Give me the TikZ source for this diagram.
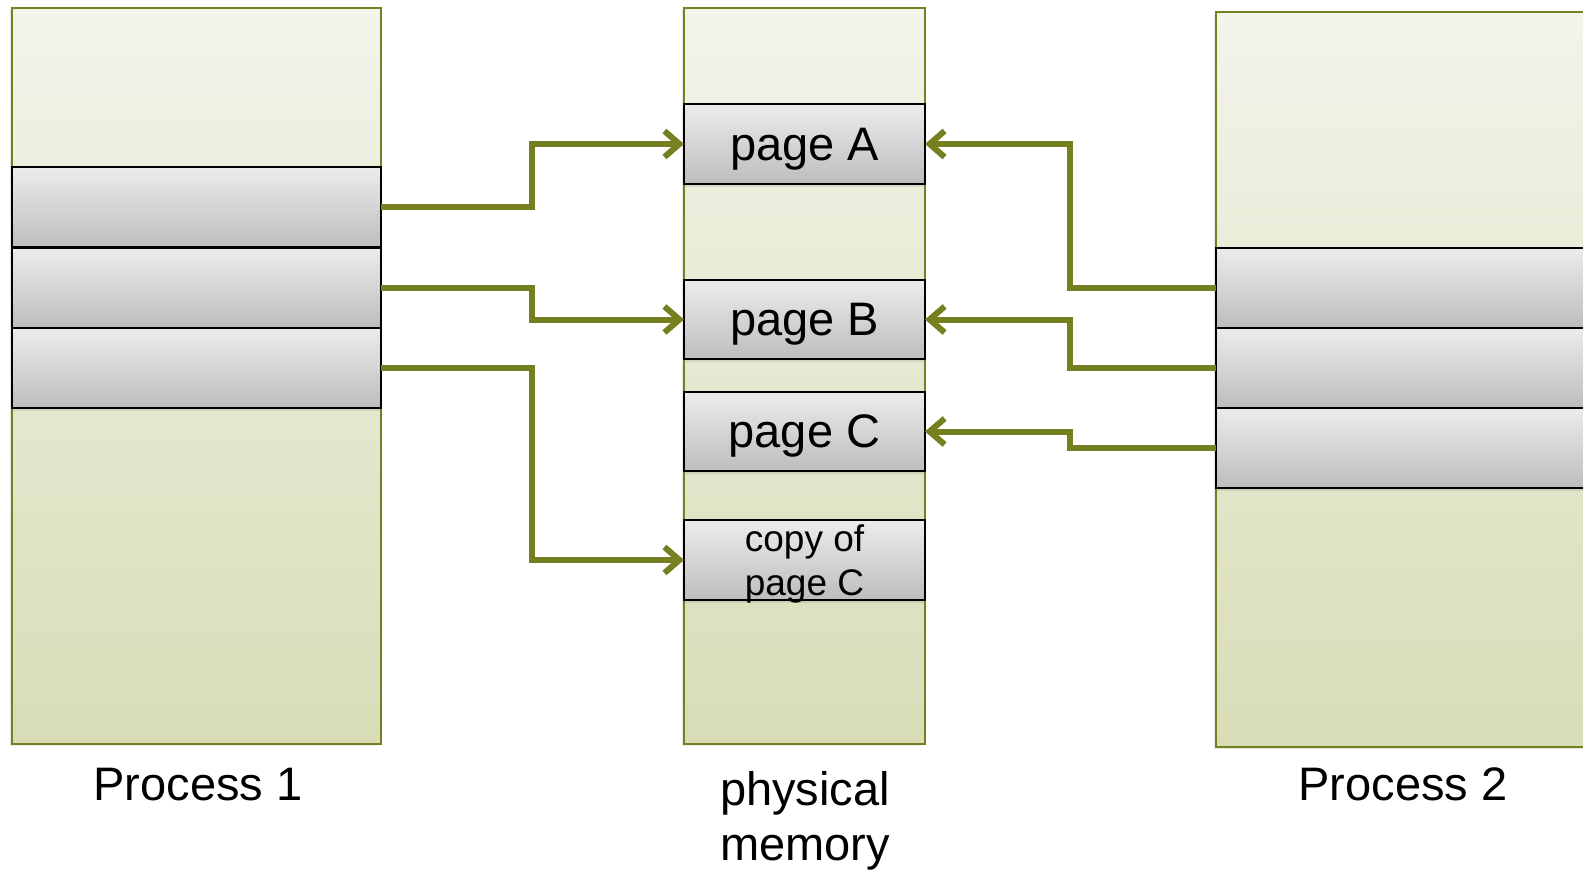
\documentclass[tikz,border=0pt]{standalone}
\usepackage{fontspec}
\setmainfont{Liberation Sans}
\usetikzlibrary{arrows.meta,shadows}
\definecolor{olivec}{RGB}{118,128,32}
\definecolor{coltop}{RGB}{243,244,234}
\definecolor{colbot}{RGB}{216,221,183}
\definecolor{graytop}{RGB}{236,236,236}
\definecolor{graybot}{RGB}{189,189,189}
\tikzset{
  column/.style={rectangle, draw=olivec, line width=2pt, top color=coltop, bottom color=colbot,
    inner sep=0pt, outer sep=0pt, anchor=north west,
    drop shadow={opacity=0.18, shadow xshift=-2pt, shadow yshift=-2pt}},
  cell/.style={rectangle, draw=black, line width=2pt, top color=graytop, bottom color=graybot,
    inner sep=0pt, outer sep=0pt, anchor=north west, text depth=0pt,
    drop shadow={opacity=0.2, shadow xshift=1pt, shadow yshift=-3pt}},
  bigtext/.style={font=\fontsize{47}{55.5}\selectfont},
  smalltext/.style={font=\fontsize{37}{44}\selectfont, align=center},
  link/.style={draw=olivec, line width=6pt, line join=miter,
    -{Straight Barb[length=15pt, width=26pt]}},
}
\begin{document}
\begin{tikzpicture}[x=1pt, y=-1pt]
\useasboundingbox (0,0) rectangle (1583,870);
\clip (0,0) rectangle (1583,870);
% columns
\node[column, minimum width=369pt, minimum height=736pt] (p1) at (12,8) {};
\node[column, minimum width=241pt, minimum height=736pt] (pm) at (684,8) {};
\node[column, minimum width=374pt, minimum height=735pt] (p2) at (1216,12) {};
% process 1 cells
\node[cell, minimum width=369pt, minimum height=80pt] (c11) at (12,167) {};
\node[cell, minimum width=369pt, minimum height=80pt] (c12) at (12,247.5) {};
\node[cell, minimum width=369pt, minimum height=80pt] (c13) at (12,328) {};
% process 2 cells
\node[cell, minimum width=374pt, minimum height=80pt] (c21) at (1216,247.5) {};
\node[cell, minimum width=374pt, minimum height=80pt] (c22) at (1216,327.5) {};
\node[cell, minimum width=374pt, minimum height=80pt] (c23) at (1216,407.5) {};
% physical memory pages
\node[cell, bigtext, minimum width=241pt, minimum height=80pt] (pA) at (684,104) {page A};
\node[cell, bigtext, minimum width=241pt, minimum height=79pt] (pB) at (684,280) {page B};
\node[cell, bigtext, minimum width=241pt, minimum height=79pt] (pC) at (684,392) {page C};
\node[cell, smalltext, minimum width=241pt, minimum height=80pt] (pD) at (684,520) {copy of\\page C};
% labels
\node[bigtext, inner sep=0pt] (l1) at (198,784.5) {Process 1};
\node[bigtext, inner sep=0pt] (l2) at (1403,784.5) {Process 2};
\node[bigtext, inner sep=0pt, align=center] (l3) at (805,821) {physical\\memory};
% routing columns
\coordinate (xl) at (532,0);
\coordinate (xr) at (1070,0);
% connectors
\draw[link] (c11.east) -- (c11.east -| xl) |- (pA.west);
\draw[link] (c12.east) -- (c12.east -| xl) |- (pB.west);
\draw[link] (c13.east) -- (c13.east -| xl) |- (pD.west);
\draw[link] (c21.west) -- (c21.west -| xr) |- (pA.east);
\draw[link] (c22.west) -- (c22.west -| xr) |- (pB.east);
\draw[link] (c23.west) -- (c23.west -| xr) |- (pC.east);
\end{tikzpicture}
\end{document}
